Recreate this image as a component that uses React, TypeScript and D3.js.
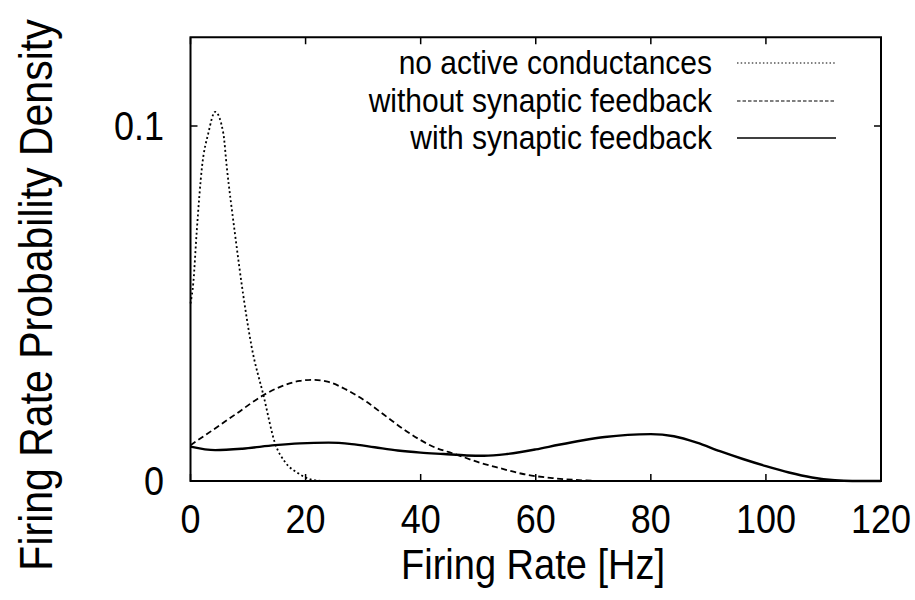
import React from "react";
import * as d3 from "d3";

// ---- Data ----
const noActiveX = [0, 0.5, 1.07, 2.0, 3.1, 4.3, 5.7, 6.3, 7.7, 9.2, 10.6, 12.7, 14.7, 16.5, 18.7, 21, 23];
const noActiveY = [0.05, 0.056, 0.07, 0.0885, 0.098, 0.104, 0.098, 0.0885, 0.07, 0.052, 0.038, 0.024, 0.0106, 0.0052, 0.0022, 0.0004, 0];

const withoutFbX = [0, 4, 8, 12.7, 16, 19, 21.3, 24, 27, 30.6, 34, 38.1, 42, 46.5, 50, 53.8, 58, 63, 68, 72];
const withoutFbY = [0.0101, 0.0145, 0.019, 0.0242, 0.0268, 0.0282, 0.0285, 0.0279, 0.0258, 0.0223, 0.0182, 0.0134, 0.0098, 0.0073, 0.0053, 0.0036, 0.0019, 0.0008, 0.0002, 0];

const withFbX = [0, 4.3, 9, 14.7, 19, 24, 28, 32, 36, 40, 44, 48, 51, 55, 60, 64, 68, 72, 76, 80, 84, 88, 92, 96, 100, 104, 108, 112, 115, 120];
const withFbY = [0.0097, 0.0087, 0.0091, 0.0101, 0.0106, 0.0108, 0.0104, 0.0095, 0.0086, 0.008, 0.0076, 0.0072, 0.0071, 0.0076, 0.0089, 0.0102, 0.0114, 0.0124, 0.013, 0.0132, 0.0126, 0.0108, 0.0084, 0.0062, 0.0042, 0.0024, 0.001, 0.0002, 0, 0];

const seriesNames = ["no active conductances", "without synaptic feedback", "with synaptic feedback"];
const xTicks = [0, 20, 40, 60, 80, 100, 120];
const yTicks = [0, 0.1];
const yTickLabels = ["0", "0.1"];
const xLabel = "Firing Rate [Hz]";
const yLabel = "Firing Rate Probability Density";

const FONT = "'Liberation Sans', Arial, Helvetica, sans-serif";

export default function App() {
  const x = d3.scaleLinear().domain([0, 120]).range([190.5, 881]);
  const y = d3.scaleLinear().domain([0, 0.125]).range([481, 37.25]);

  const line = d3
    .line<[number, number]>()
    .x((d) => x(d[0]))
    .y((d) => y(d[1]))
    .curve(d3.curveMonotoneX);

  const zip = (xs: number[], ys: number[]) => xs.map((v, i) => [v, ys[i]] as [number, number]);

  const series = [
    { name: seriesNames[0], d: line(zip(noActiveX, noActiveY)), dash: "2,2.6", w: 1.8, legDash: "1.5,2.2", legW: 1.2 },
    { name: seriesNames[1], d: line(zip(withoutFbX, withoutFbY)), dash: "6,3.5", w: 1.8, legDash: "3.5,2", legW: 1.2 },
    { name: seriesNames[2], d: line(zip(withFbX, withFbY)), dash: "none", w: 2.4, legDash: "none", legW: 1.6 },
  ];

  const [x0, x1] = x.range();
  const [yb, yt] = y.range();
  const tickLen = 7;
  const legendRows = [63, 101, 138];

  return (
    <div style={{ position: "absolute", left: 0, top: 0 }}>
      <svg width={915} height={600} style={{ display: "block", background: "#fff" }}>
        <rect x={0} y={0} width={915} height={600} fill="#fff" />
        {/* curves */}
        {series.map((s, i) => (
          <path key={i} d={s.d || ""} fill="none" stroke="#000" strokeWidth={s.w} strokeDasharray={s.dash} strokeLinejoin="round" />
        ))}
        {/* ticks */}
        {xTicks.map((t) => (
          <g key={"xt" + t}>
            <line x1={x(t)} x2={x(t)} y1={yb} y2={yb - tickLen} stroke="#000" strokeWidth={1.5} />
            <line x1={x(t)} x2={x(t)} y1={yt} y2={yt + tickLen} stroke="#000" strokeWidth={1.5} />
            <text transform={`translate(${x(t)},533) scale(1,1.12)`} textAnchor="middle" fontFamily={FONT} fontSize={36}>
              {t}
            </text>
          </g>
        ))}
        {yTicks.map((t, i) => (
          <g key={"yt" + t}>
            <line x1={x0} x2={x0 + tickLen} y1={y(t)} y2={y(t)} stroke="#000" strokeWidth={1.5} />
            <line x1={x1} x2={x1 - tickLen} y1={y(t)} y2={y(t)} stroke="#000" strokeWidth={1.5} />
            <text transform={`translate(164,${y(t) + 14}) scale(1,1.12)`} textAnchor="end" fontFamily={FONT} fontSize={36}>
              {yTickLabels[i]}
            </text>
          </g>
        ))}
        {/* frame */}
        <rect x={x0} y={yt} width={x1 - x0} height={yb - yt} fill="none" stroke="#000" strokeWidth={2} />
        {/* legend */}
        {series.map((s, i) => (
          <g key={"lg" + i}>
            <text transform={`translate(712,${legendRows[i] + 11}) scale(1,1.1)`} textAnchor="end" fontFamily={FONT} fontSize={30}>
              {s.name}
            </text>
            <line x1={737} x2={836} y1={legendRows[i]} y2={legendRows[i]} stroke="#000" strokeWidth={s.legW} strokeDasharray={s.legDash} />
          </g>
        ))}
        {/* axis labels */}
        <text transform="translate(533,579) scale(1,1.14)" textAnchor="middle" fontFamily={FONT} fontSize={38}>
          {xLabel}
        </text>
        <text transform="translate(52,295) rotate(-90) scale(1,1.12)" textAnchor="middle" fontFamily={FONT} fontSize={41}>
          {yLabel}
        </text>
      </svg>
    </div>
  );
}
